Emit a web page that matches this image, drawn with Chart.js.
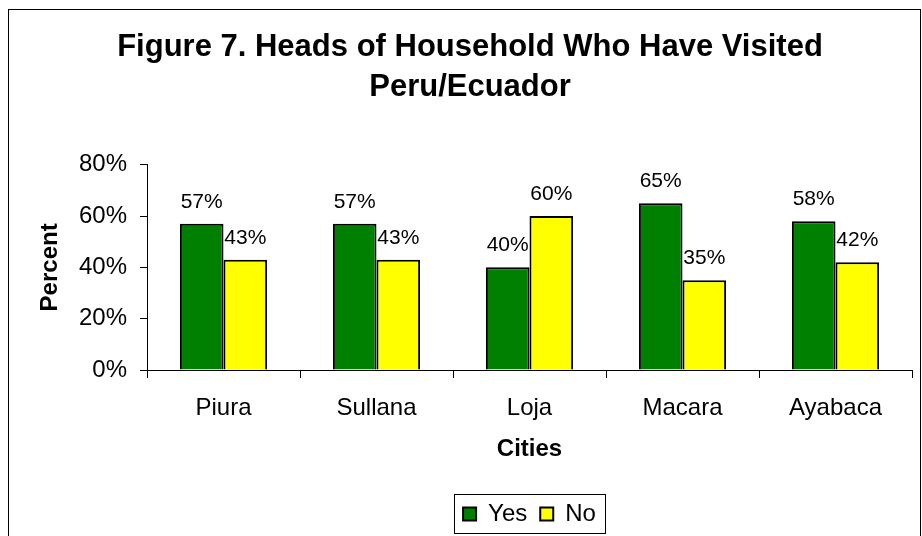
<!DOCTYPE html>
<html>
<head>
<meta charset="utf-8">
<script src="https://cdn.jsdelivr.net/npm/chart.js@4.4.0/dist/chart.umd.min.js"></script>
<style>
  html, body { margin: 0; padding: 0; background: #fff; }
  canvas { display: block; }
</style>
</head>
<body>
<canvas id="c" width="922" height="536"></canvas>
<script>
const categories = ["Piura", "Sullana", "Loja", "Macara", "Ayabaca"];
const yesValues = [57, 57, 40, 65, 58];
const noValues = [43, 43, 60, 35, 42];
const seriesNames = ["Yes", "No"];
const titleLines = ["Figure 7. Heads of Household Who Have Visited", "Peru/Ecuador"];
const yAxisTitle = "Percent";
const xAxisTitle = "Cities";

const FONT = "'Liberation Sans', Arial, Helvetica, sans-serif";

const framePlugin = {
  id: 'frame',
  beforeDraw(chart) {
    const ctx = chart.ctx;
    ctx.save();
    ctx.fillStyle = '#fff';
    ctx.fillRect(0, 0, chart.width, chart.height);
    ctx.strokeStyle = '#000';
    ctx.lineWidth = 1;
    ctx.strokeRect(8.5, 9.5, 912, 540);
    ctx.restore();
  }
};

const valueLabelPlugin = {
  id: 'valueLabels',
  afterDatasetsDraw(chart) {
    const ctx = chart.ctx;
    ctx.save();
    ctx.font = "21px " + FONT;
    ctx.fillStyle = '#000';
    ctx.textAlign = 'center';
    ctx.textBaseline = 'alphabetic';
    chart.data.datasets.forEach((ds, di) => {
      const meta = chart.getDatasetMeta(di);
      meta.data.forEach((bar, i) => {
        ctx.fillText(ds.data[i] + '%', bar.x, bar.y - 16);
      });
    });
    ctx.restore();
  }
};

const legendBoxPlugin = {
  id: 'legendBox',
  afterDraw(chart) {
    const lg = chart.legend;
    if (!lg || !lg.legendHitBoxes || !lg.legendHitBoxes.length) return;
    const hb = lg.legendHitBoxes;
    let l = Infinity, r = -Infinity, t = Infinity, b = -Infinity;
    hb.forEach(h => {
      l = Math.min(l, h.left); r = Math.max(r, h.left + h.width);
      t = Math.min(t, h.top); b = Math.max(b, h.top + h.height);
    });
    const ctx = chart.ctx;
    ctx.save();
    ctx.strokeStyle = '#000';
    ctx.lineWidth = 1;
    ctx.strokeRect(Math.round(l - 9) + 0.5, Math.round(t - 8) + 0.5, Math.round(r - l + 18), Math.round(b - t + 15));
    ctx.restore();
  }
};

new Chart(document.getElementById('c'), {
  type: 'bar',
  data: {
    labels: categories,
    datasets: [
      { label: seriesNames[0], data: yesValues, backgroundColor: '#008000', borderColor: '#000', borderWidth: 2 },
      { label: seriesNames[1], data: noValues, backgroundColor: '#FFFF00', borderColor: '#000', borderWidth: 2 }
    ]
  },
  options: {
    responsive: false,
    animation: false,
    devicePixelRatio: 1,
    layout: { padding: { left: 28, right: 10, top: 0, bottom: 0 } },
    datasets: { bar: { categoryPercentage: 0.57, barPercentage: 1.0 } },
    scales: {
      x: {
        offset: true,
        grid: { display: true, drawOnChartArea: false, drawTicks: true, tickLength: 8, color: '#000', offset: true },
        border: { display: true, color: '#000', width: 1 },
        ticks: { color: '#000', font: { family: FONT, size: 24 }, padding: 16, maxRotation: 0 },
        title: { display: true, text: xAxisTitle, color: '#000', font: { family: FONT, size: 24, weight: 'bold' }, padding: { top: 0, bottom: 25 } },
        afterFit(scale) { scale.height = 119; }
      },
      y: {
        min: 0, max: 80,
        grid: { display: true, drawOnChartArea: false, drawTicks: true, tickLength: 7, color: '#000' },
        border: { display: true, color: '#000', width: 1 },
        ticks: { stepSize: 20, color: '#000', font: { family: FONT, size: 24 }, padding: 13, callback: v => v + '%' },
        title: { display: true, text: yAxisTitle, color: '#000', font: { family: FONT, size: 24, weight: 'bold' }, padding: { top: 8, bottom: 0 } },
        afterFit(scale) { scale.width = 119; }
      }
    },
    plugins: {
      title: {
        display: true,
        text: titleLines,
        color: '#000',
        font: { family: FONT, size: 31, weight: 'bold', lineHeight: 1.27 },
        padding: { top: 28, bottom: 58 }
      },
      legend: {
        display: true,
        position: 'bottom',
        fullSize: false,
        labels: {
          color: '#000',
          font: { family: FONT, size: 24 },
          boxWidth: 13, boxHeight: 13,
          padding: 13,
          generateLabels(chart) {
            return chart.data.datasets.map((ds, i) => ({
              text: ds.label, fillStyle: ds.backgroundColor, strokeStyle: '#000', lineWidth: 2, datasetIndex: i, hidden: false
            }));
          }
        }
      },
      tooltip: { enabled: false }
    }
  },
  plugins: [framePlugin, valueLabelPlugin, legendBoxPlugin]
});
</script>
</body>
</html>
